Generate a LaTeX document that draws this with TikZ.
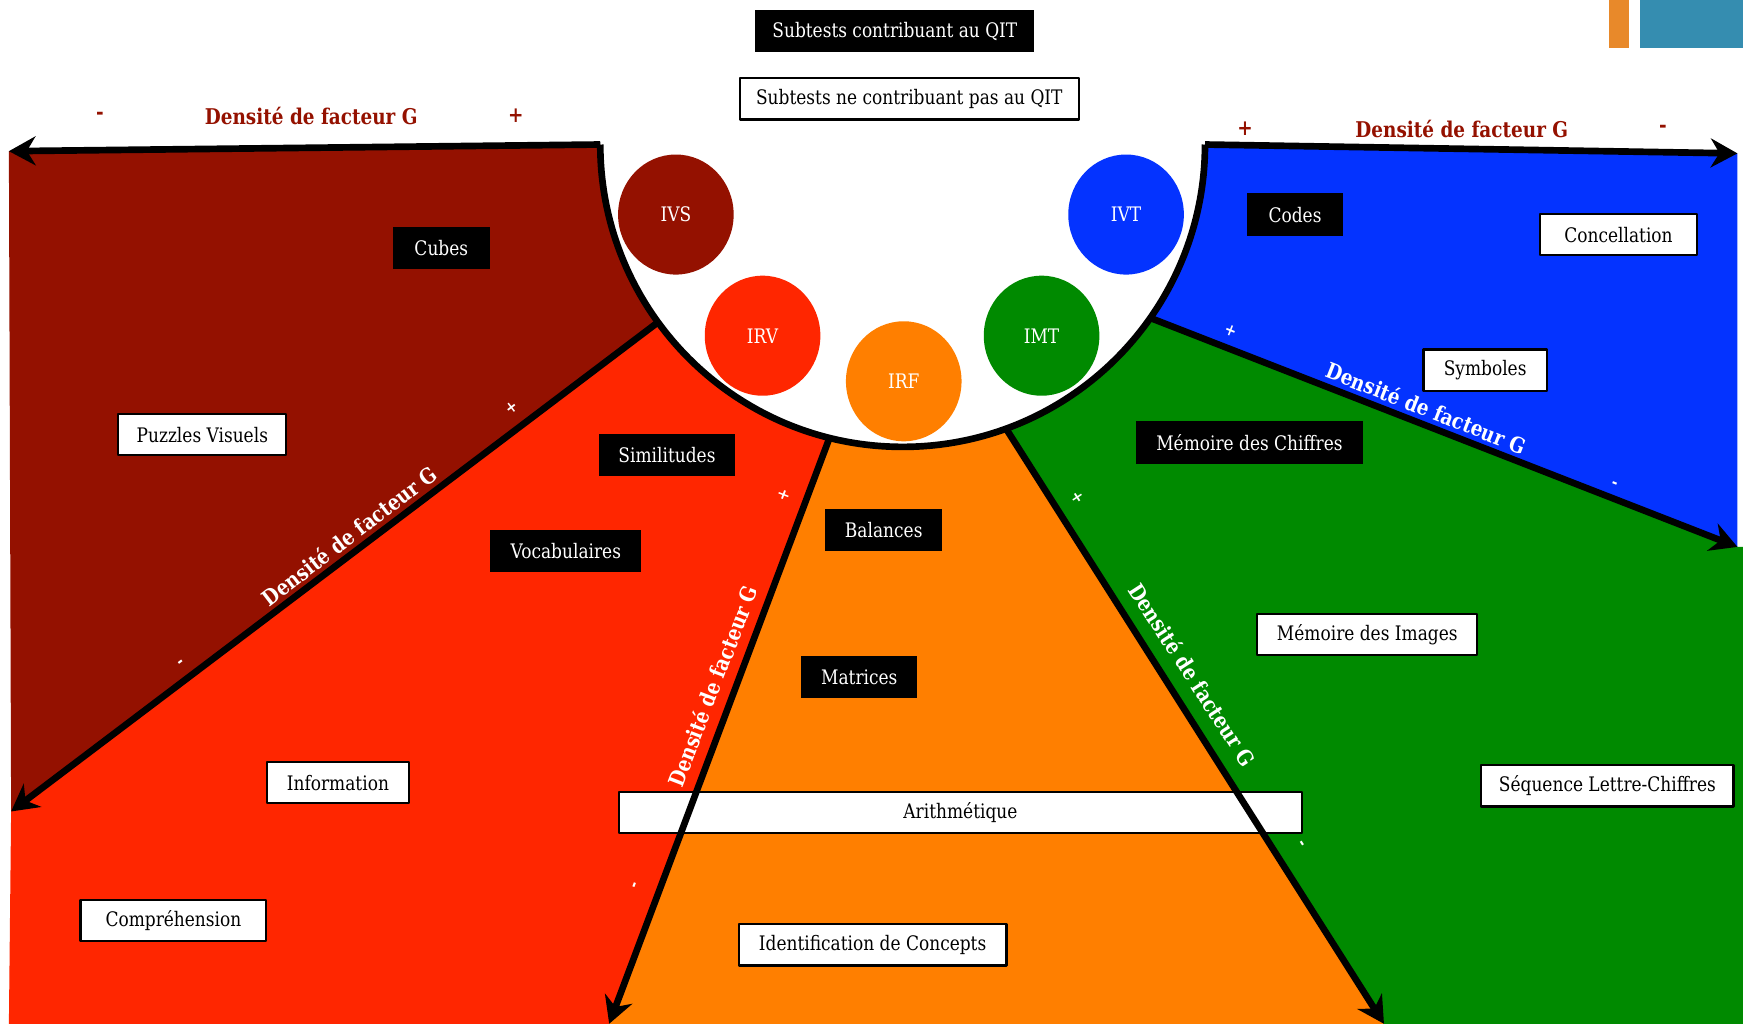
\documentclass[tikz,border=0pt]{standalone}
\usepackage{fontspec}
\setmainfont{DejaVu Serif}[FakeStretch=0.85]
\usetikzlibrary{arrows.meta,calc,shapes.geometric}
\definecolor{cayenne}{HTML}{941100}
\definecolor{maraschino}{HTML}{FF2600}
\definecolor{tangerine}{HTML}{FF7F00}
\definecolor{clover}{HTML}{008A00}
\definecolor{blueberry}{HTML}{0433FF}
\definecolor{accentorange}{HTML}{E8892A}
\definecolor{accentteal}{HTML}{358DB0}
\tikzset{
  blackbox/.style={fill=black,text=white,minimum width=#1,minimum height=38pt,inner sep=0pt},
  whitebox/.style={fill=white,draw=black,line width=2pt,minimum width=#1,minimum height=37pt,inner sep=0pt},
  indice/.style={ellipse,fill=#1,text=white,minimum width=104pt,minimum height=108pt,inner sep=0pt},
  densite/.style={font=\bfseries\fontsize{19.5}{21}\selectfont,text=cayenne},
  axe/.style={font=\bfseries\fontsize{19.5}{21}\selectfont,text=white},
  signe/.style={font=\bfseries\fontsize{15}{16}\selectfont,text=white},
  frontiere/.style={line width=6pt,->}
}
\begin{document}
\begin{tikzpicture}[line join=round,>={Stealth[length=24pt,width=26pt]},x=1pt,y=-1pt,font=\fontsize{18}{20}\selectfont]
	\useasboundingbox (0,0) rectangle (1568,921);
	\coordinate (C) at (812,130);
	\coordinate (T1) at (540,130);
	\coordinate (T2) at (1084,130);
	\coordinate (P1) at ($(C)+(216:272pt)$);
	\coordinate (P2) at ($(C)+(256:272pt)$);
	\coordinate (P3) at ($(C)+(290:272pt)$);
	\coordinate (P4) at ($(C)+(325:272pt)$);
	\coordinate (L0) at (8,136);
	\coordinate (L1) at (10,730);
	\coordinate (L2) at (548,921);
	\coordinate (L3) at (1245,921);
	\coordinate (L4) at (1563,492);
	\coordinate (R1) at (1563,138);
	\fill[cayenne] (L0) -- (T1) arc[start angle=180,end angle=216,radius=272pt] -- (L1) -- cycle;
	\fill[maraschino] (P1) arc[start angle=216,end angle=256,radius=272pt] -- (L2) -- (8,921) -- (L1) -- cycle;
	\fill[tangerine] (P2) arc[start angle=256,end angle=290,radius=272pt] -- (L3) -- (L2) -- cycle;
	\fill[clover] (P3) arc[start angle=290,end angle=325,radius=272pt] -- (L4) -- (1568,492) -- (1568,921) -- (L3) -- cycle;
	\fill[blueberry] (P4) arc[start angle=325,end angle=360,radius=272pt] -- (R1) -- (L4) -- cycle;
	\fill[accentorange] (1447,0) rectangle (1465,43);
	\fill[accentteal] (1475,0) rectangle (1568,43);
	\node[blackbox=251pt] (qit) at (805,28) {Subtests contribuant au QIT};
	\node[whitebox=305pt] (horsqit) at (818,89) {Subtests ne contribuant pas au QIT};
	\node[blackbox=87pt] (cubes) at (397,223) {Cubes};
	\node[whitebox=151pt] (puzzles) at (182,391) {Puzzles Visuels};
	\node[blackbox=122pt] (simil) at (600,409) {Similitudes};
	\node[blackbox=136pt] (voca) at (509,496) {Vocabulaires};
	\node[whitebox=128pt] (info) at (304,704) {Information};
	\node[whitebox=167pt] (compr) at (156,828) {Compréhension};
	\node[blackbox=105pt] (balances) at (795,477) {Balances};
	\node[blackbox=104pt] (matrices) at (773,609) {Matrices};
	\node[whitebox=614pt] (arith) at (864,731) {Arithmétique};
	\node[whitebox=241pt] (concepts) at (785,850) {Identification de Concepts};
	\node[blackbox=204pt] (chiffres) at (1124,398) {Mémoire des Chiffres};
	\node[whitebox=198pt] (images) at (1230,571) {Mémoire des Images};
	\node[whitebox=227pt] (sequence) at (1446,707) {Séquence Lettre-Chiffres};
	\node[blackbox=86pt] (codes) at (1165,193) {Codes};
	\node[whitebox=141pt] (concell) at (1456,211) {Concellation};
	\node[whitebox=111pt] (symboles) at (1336,333) {Symboles};
	\draw[frontiere] (T1) -- (L0);
	\draw[frontiere] (P1) -- (L1);
	\draw[frontiere] (P2) -- (L2);
	\draw[frontiere] (P3) -- (L3);
	\draw[frontiere] (P4) -- (L4);
	\draw[frontiere] (T2) -- (R1);
	\draw[line width=6pt] (T1) arc[start angle=180,end angle=360,radius=272pt];
	\node[indice=cayenne] (ivs) at (608,193) {IVS};
	\node[indice=maraschino] (irv) at (686,302) {IRV};
	\node[indice=tangerine] (irf) at (813,343) {IRF};
	\node[indice=clover] (imt) at (937,302) {IMT};
	\node[indice=blueberry] (ivt) at (1013,193) {IVT};
	\node[densite] (moins1) at (90,104) {-};
	\node[densite] (dens1) at (280,104) {Densité de facteur G};
	\node[densite] (plus1) at (464,104) {+};
	\node[densite] (plus2) at (1120,116) {+};
	\node[densite] (dens2) at (1315,116) {Densité de facteur G};
	\node[densite] (moins2) at (1496,116) {-};
	\node[axe,rotate=37.5] (dens3) at (314,482) {Densité de facteur G};
	\node[signe,rotate=37.5] (plus3) at (460,367) {+};
	\node[signe,rotate=37.5] (moins3) at (163,597) {-};
	\node[axe,rotate=69] (dens4) at (641,617) {Densité de facteur G};
	\node[signe,rotate=69] (plus4) at (705,445) {+};
	\node[signe,rotate=69] (moins4) at (572,797) {-};
	\node[axe,rotate=-57] (dens5) at (1073,607) {Densité de facteur G};
	\node[signe,rotate=-57] (plus5) at (969,448) {+};
	\node[signe,rotate=-57] (moins5) at (1170,760) {-};
	\node[axe,rotate=-21.5] (dens6) at (1283,367) {Densité de facteur G};
	\node[signe,rotate=-21.5] (plus6) at (1107,298) {+};
	\node[signe,rotate=-21.5] (moins6) at (1452,436) {-};
\end{tikzpicture}
\end{document}
